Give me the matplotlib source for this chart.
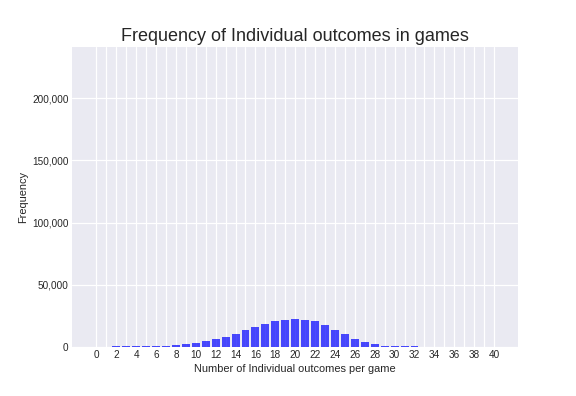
import matplotlib
matplotlib.use("Agg")
import matplotlib.pyplot as plt
from matplotlib.ticker import FuncFormatter

outcomes = list(range(2, 33))
frequency = [700, 700, 700, 700, 700, 800, 1600, 2500, 3300, 5000, 6300,
             7800, 10200, 13400, 15900, 18300, 20700, 21500, 22300, 21500,
             20700, 17400, 13400, 10500, 6200, 3800, 2100, 600, 500, 500, 500]
x_ticks = list(range(0, 41))
x_labels = [str(t) if t % 2 == 0 else "" for t in x_ticks]

plt.style.use("seaborn-v0_8-darkgrid")
plt.rcParams["font.family"] = ["Liberation Sans", "DejaVu Sans"]

fig = plt.figure(figsize=(8, 5.5), dpi=72)
ax = fig.add_axes([0.125, 1 - 347 / 396, 0.9 - 0.125, (347 - 47) / 396])
ax.bar(outcomes, frequency, width=0.8, color="blue", alpha=0.7)
ax.set_xticks(x_ticks)
ax.set_xticklabels(x_labels)
ax.set_xlim(-2.45, 42.45)
ax.set_ylim(0, 241000)
ax.set_yticks([0, 50000, 100000, 150000, 200000])
ax.yaxis.set_major_formatter(FuncFormatter(lambda v, p: f"{int(v):,}"))
ax.tick_params(labelsize=10)
ax.grid(True, color="white", linewidth=1.2)
ax.set_xlabel("Number of Individual outcomes per game", fontsize=11)
ax.set_ylabel("Frequency", fontsize=11)
ax.set_title("Frequency of Individual outcomes in games", fontsize=18)
fig.savefig("out.png", dpi=72)
